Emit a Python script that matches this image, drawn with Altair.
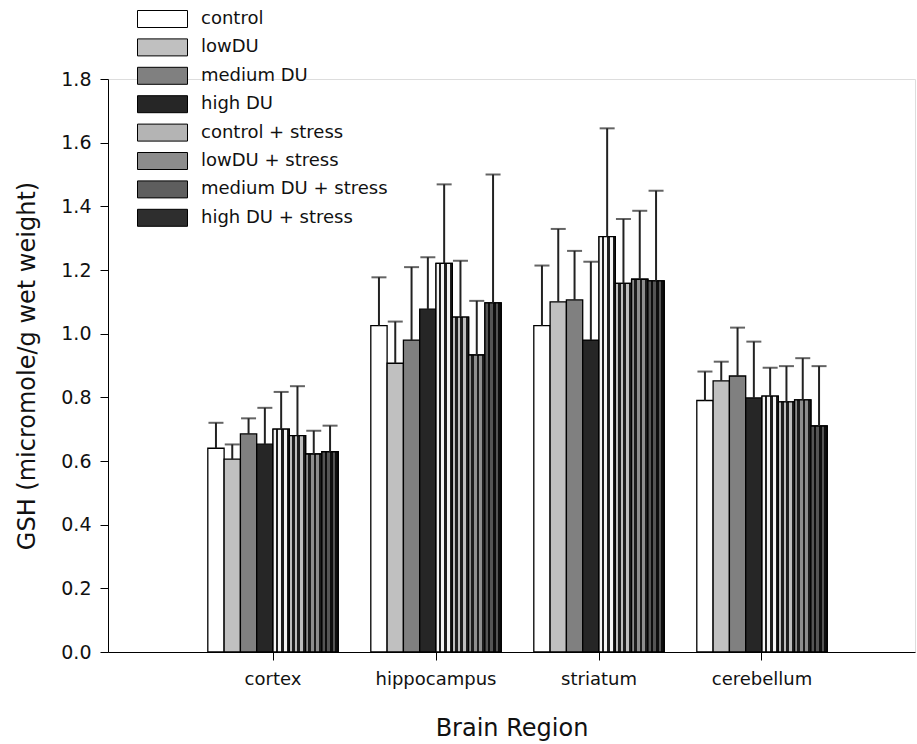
import altair as alt
import pandas as pd

regions = ["cortex", "hippocampus", "striatum", "cerebellum"]
groups = ["control", "lowDU", "medium DU", "high DU",
          "control + stress", "lowDU + stress", "medium DU + stress", "high DU + stress"]

# mean GSH per region (cortex, hippocampus, striatum, cerebellum)
control        = [0.640, 1.025, 1.025, 0.790]
low_du         = [0.606, 0.907, 1.100, 0.852]
medium_du      = [0.685, 0.980, 1.106, 0.867]
high_du        = [0.653, 1.077, 0.980, 0.798]
control_st     = [0.700, 1.221, 1.305, 0.804]
low_du_st      = [0.680, 1.052, 1.158, 0.786]
medium_du_st   = [0.622, 0.933, 1.171, 0.792]
high_du_st     = [0.629, 1.097, 1.166, 0.710]

# standard errors
control_se      = [0.080, 0.152, 0.189, 0.091]
low_du_se       = [0.046, 0.131, 0.229, 0.060]
medium_du_se    = [0.049, 0.229, 0.154, 0.152]
high_du_se      = [0.114, 0.163, 0.246, 0.177]
control_st_se   = [0.117, 0.248, 0.340, 0.089]
low_du_st_se    = [0.155, 0.177, 0.202, 0.112]
medium_du_st_se = [0.073, 0.170, 0.215, 0.131]
high_du_st_se   = [0.082, 0.403, 0.283, 0.188]

means = [control, low_du, medium_du, high_du, control_st, low_du_st, medium_du_st, high_du_st]
ses = [control_se, low_du_se, medium_du_se, high_du_se,
       control_st_se, low_du_st_se, medium_du_st_se, high_du_st_se]

rows = []
for g, m, s in zip(groups, means, ses):
    for r, mv, sv in zip(regions, m, s):
        rows.append({"region": r, "group": g, "mean": mv, "upper": mv + sv})
df = pd.DataFrame(rows)

fills = ["#ffffff", "#c0c0c0", "#808080", "#262626",
         "#b4b4b4", "#8c8c8c", "#5e5e5e", "#2e2e2e"]

# stripe colours (dark, light) for the stress textures
textures = {
    "control + stress": ("#1e1e1e", "#f4f4f4"),
    "lowDU + stress": ("#1e1e1e", "#bdbdbd"),
    "medium DU + stress": ("#1c1c1c", "#8e8e8e"),
    "high DU + stress": ("#0e0e0e", "#555555"),
}

FONT = "DejaVu Sans"

x_enc = alt.X("region:N", sort=regions, title="Brain Region",
              scale=alt.Scale(paddingInner=0.2, paddingOuter=0.5755, align=0.532),
              axis=alt.Axis(labelAngle=0, labelFontSize=18, titleFontSize=24,
                            labelPadding=10, titlePadding=28, tickSize=8,
                            labelFont=FONT, titleFont=FONT, titleFontWeight="normal",
                            domainColor="black", tickColor="black",
                            labelColor="#111", titleColor="#111"))
xo_enc = alt.XOffset("group:N", sort=groups,
                     scale=alt.Scale(paddingInner=0, paddingOuter=0))
y_enc = alt.Y("mean:Q", title="GSH (micromole/g wet weight)",
              scale=alt.Scale(domain=[0, 1.8], nice=False),
              axis=alt.Axis(values=[0, 0.2, 0.4, 0.6, 0.8, 1.0, 1.2, 1.4, 1.6, 1.8],
                            format=".1f", grid=False, labelFontSize=19,
                            titleFontSize=24, labelPadding=9, titlePadding=21,
                            tickSize=8, labelFont=FONT, titleFont=FONT,
                            titleFontWeight="normal", domainColor="black",
                            tickColor="black", labelColor="#111", titleColor="#111"))

base = alt.Chart(df).encode(x=x_enc, xOffset=xo_enc)

bars = base.mark_bar(stroke="black", strokeWidth=1.3).encode(
    y=y_enc,
    fill=alt.Fill("group:N", sort=groups,
                  scale=alt.Scale(domain=groups, range=fills),
                  legend=alt.Legend(title=None, orient="none", legendX=29, legendY=-73,
                                    symbolType="M-1,-0.68H3V0.68H-1Z", symbolSize=625,
                                    symbolStrokeColor="black", symbolStrokeWidth=1,
                                    labelFontSize=18, labelFont=FONT, labelColor="#111",
                                    labelOffset=38, rowPadding=4.4, labelLimit=400)),
)

layers = [bars]
periods = 3
for g, (dark, light) in textures.items():
    stops = []
    n = periods * 2
    for i in range(n):
        c = light if i % 2 == 0 else dark
        stops.append(alt.GradientStop(color=c, offset=i / n))
        stops.append(alt.GradientStop(color=c, offset=(i + 1) / n))
    grad = alt.LinearGradient(gradient="linear", stops=stops, x1=0, x2=1, y1=0, y2=0)
    layers.append(
        base.transform_filter(alt.datum.group == g)
        .mark_bar(fill=grad, stroke="black", strokeWidth=1.3)
        .encode(y="mean:Q")
    )

err = base.mark_rule(color="#222", strokeWidth=2).encode(y="mean:Q", y2="upper:Q")
caps = base.mark_tick(color="#222", thickness=2, size=15, orient="horizontal").encode(y="upper:Q")
layers += [err, caps]

chart = alt.layer(*layers).properties(
    width=807, height=573,
    autosize=alt.AutoSizeParams(type="none"),
    padding={"left": 108, "top": 79, "right": 2, "bottom": 92},
).configure_view(stroke=None).configure(background="white")

chart.save("out.html", embed_options={"renderer": "svg", "actions": False})
